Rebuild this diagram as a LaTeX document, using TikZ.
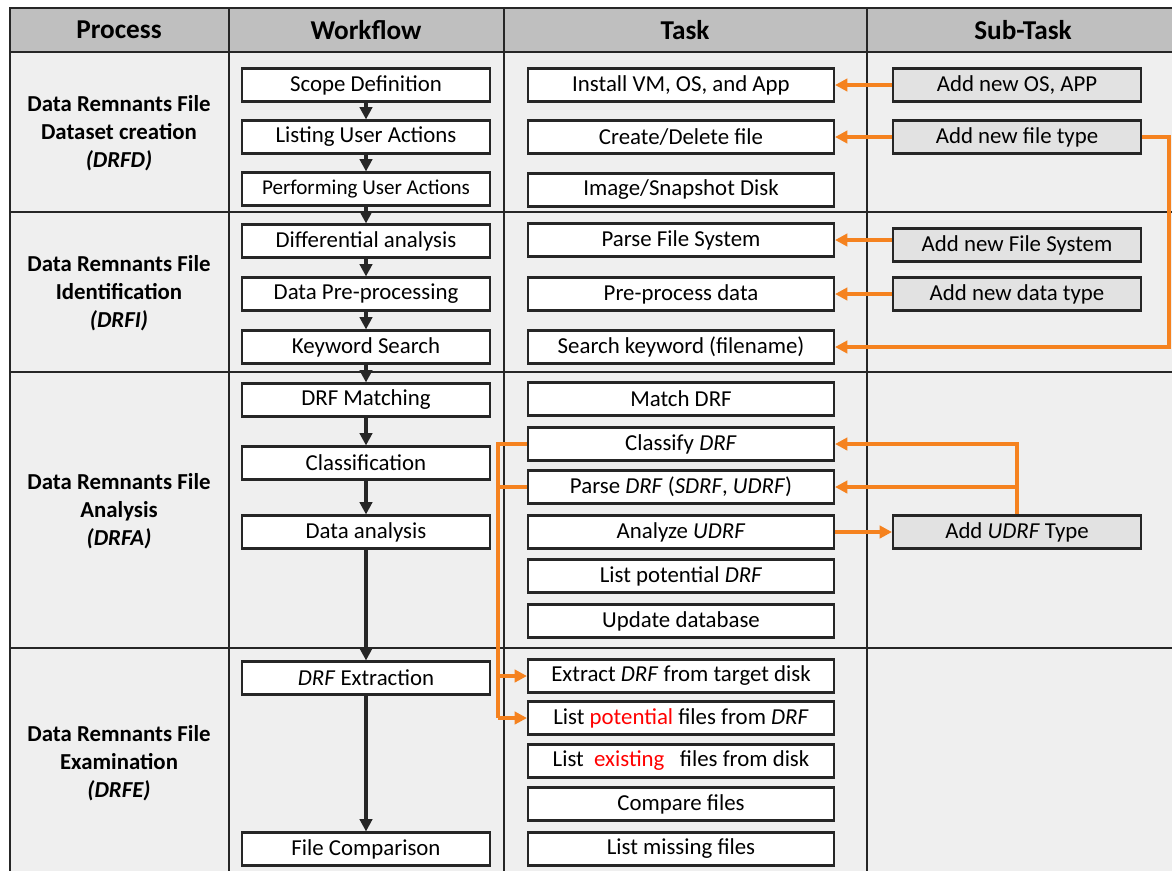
\documentclass[tikz,border=0pt]{standalone}
\usepackage{fontspec}
\setmainfont{Carlito}
\usetikzlibrary{arrows.meta}
\definecolor{cellgray}{HTML}{EFEFEF}
\definecolor{headgray}{HTML}{BFBFBF}
\definecolor{subgray}{HTML}{E2E2E2}
\definecolor{linkorange}{HTML}{F5821F}
\definecolor{framegray}{HTML}{262626}
\tikzset{
  flowbox/.style={draw=framegray, fill=white, line width=1.2pt, minimum width=4.96cm,
    minimum height=0.66cm, inner sep=0pt, font=\fontsize{13}{15}\selectfont},
  taskbox/.style={flowbox, minimum width=6.12cm},
  subbox/.style={flowbox, fill=subgray},
  headtext/.style={font=\fontsize{15.5}{18}\selectfont\bfseries},
  proctext/.style={align=center, font=\fontsize{13}{16}\selectfont\bfseries},
  flowarrow/.style={-{Triangle[length=7pt,width=7pt]}, line width=2pt, framegray},
  linkline/.style={linkorange, line width=2pt},
  linkarrow/.style={linkline, -{Triangle[length=7pt,width=7pt]}}
}
\begin{document}
\begin{tikzpicture}[x=0.02cm,y=-0.02cm]
  \useasboundingbox (0,0) rectangle (1172,870);
  \clip (0,0) rectangle (1172,870);
  \fill[headgray] (10,8) rectangle (1180,52);
  \fill[cellgray] (10,52) rectangle (1180,880);
  \draw[framegray, line width=0.8pt] (10,880) -- (10,8) -- (1180,8);
  \foreach \y in {52,212,372,648}
    \draw[framegray, line width=0.8pt] (10,\y) -- (1180,\y);
  \foreach \x in {229,504,867}
    \draw[framegray, line width=0.8pt] (\x,8) -- (\x,880);

  \node[headtext] (hproc) at (119,30) {Process};
  \node[headtext] (hflow) at (366,30) {Workflow};
  \node[headtext] (htask) at (685,30) {Task};
  \node[headtext] (hsub) at (1023,30) {Sub-Task};

  \node[proctext] (drfd) at (119,133) {Data Remnants File\\Dataset creation\\\textit{(DRFD)}};
  \node[proctext] (drfi) at (119,293) {Data Remnants File\\Identification\\\textit{(DRFI)}};
  \node[proctext] (drfa) at (119,511) {Data Remnants File\\Analysis\\\textit{(DRFA)}};
  \node[proctext] (drfe) at (119,763) {Data Remnants File\\Examination\\\textit{(DRFE)}};

  \node[flowbox] (w1) at (366,85) {Scope Definition};
  \node[flowbox] (w2) at (366,137) {Listing User Actions};
  \node[flowbox, font=\fontsize{12}{14}\selectfont] (w3) at (366,189) {Performing User Actions};
  \node[flowbox] (w4) at (366,241) {Differential analysis};
  \node[flowbox] (w5) at (366,294) {Data Pre-processing};
  \node[flowbox] (w6) at (366,347) {Keyword Search};
  \node[flowbox] (w7) at (366,400) {DRF Matching};
  \node[flowbox] (w8) at (366,463) {Classification};
  \node[flowbox] (w9) at (366,532) {Data analysis};
  \node[flowbox] (w10) at (366,678) {\textit{DRF} Extraction};
  \node[flowbox] (w11) at (366,849) {File Comparison};

  \node[taskbox] (t1) at (681,85) {Install VM, OS, and App};
  \node[taskbox] (t2) at (681,137) {Create/Delete file};
  \node[taskbox] (t3) at (681,190) {Image/Snapshot Disk};
  \node[taskbox] (t4) at (681,240) {Parse File System};
  \node[taskbox] (t5) at (681,294) {Pre-process data};
  \node[taskbox] (t6) at (681,347) {Search keyword (filename)};
  \node[taskbox] (t7) at (681,399) {Match DRF};
  \node[taskbox] (t8) at (681,444) {Classify \textit{DRF}};
  \node[taskbox] (t9) at (681,487) {Parse \textit{DRF} (\textit{SDRF}, \textit{UDRF})};
  \node[taskbox] (t10) at (681,532) {Analyze \textit{UDRF}};
  \node[taskbox] (t11) at (681,576) {List potential \textit{DRF}};
  \node[taskbox] (t12) at (681,621) {Update database};
  \node[taskbox] (t13) at (681,676) {Extract \textit{DRF} from target disk};
  \node[taskbox] (t14) at (681,718) {List \textcolor{red}{potential} files from \textit{DRF}};
  \node[taskbox] (t15) at (681,761) {List\ \ \textcolor{red}{existing}\ \ \ files from disk};
  \node[taskbox] (t16) at (681,804) {Compare files};
  \node[taskbox] (t17) at (681,849) {List missing files};

  \node[subbox] (s1) at (1017,85) {Add new OS, APP};
  \node[subbox] (s2) at (1017,137) {Add new file type};
  \node[subbox] (s3) at (1017,245) {Add new File System};
  \node[subbox] (s4) at (1017,294) {Add new data type};
  \node[subbox] (s5) at (1017,532) {Add \textit{UDRF} Type};

  \coordinate (rlink) at (1169,0);
  \coordinate (llink) at (498,0);

  \begin{scope}[flowarrow]
    \draw (w1) -- (w2);
    \draw (w2) -- (w3);
    \draw (w3) -- (w4);
    \draw (w4) -- (w5);
    \draw (w5) -- (w6);
    \draw (w6) -- (w7);
    \draw (w7) -- (w8);
    \draw (w8) -- (w9);
    \draw (w9) -- (w10);
    \draw (w10) -- (w11);
  \end{scope}

  \begin{scope}[linkarrow]
    \draw (s1) -- (t1);
    \draw (s2) -- (t2);
    \draw (s3.west |- t4) -- (t4);
    \draw (s4) -- (t5);
    \draw (s2.east) -- (s2.east -| rlink) -- (t6 -| rlink) -- (t6);
    \draw (t10) -- (s5);
    \draw (s5.north) -- (s5.north |- t8) -- (t8);
    \draw (s5.north |- t9) -- (t9);
    \draw (t13 -| llink) -- (t13);
    \draw (t14 -| llink) -- (t14);
  \end{scope}
  \draw[linkline] (t8.west) -- (t8 -| llink) -- (t14 -| llink);
  \draw[linkline] (t9.west) -- (t9 -| llink);
\end{tikzpicture}
\end{document}
